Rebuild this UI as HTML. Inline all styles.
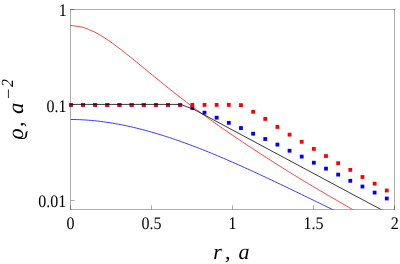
<!DOCTYPE html>
<html><head><meta charset="utf-8"><style>
html,body{margin:0;padding:0;background:#fff;}
svg{display:block;will-change:transform;}
text{font-family:"Liberation Serif",serif;fill:#000;text-rendering:geometricPrecision;}
.t{font-size:17.7px;}
.l{font-size:22px;font-style:italic;}
.s{font-size:17px;font-style:italic;}
</style></head><body>
<svg width="400" height="264" viewBox="0 0 400 264">
<rect width="400" height="264" fill="#fff"/>
<defs><clipPath id="c"><rect x="70.5" y="9.5" width="324.0" height="200.0"/></clipPath></defs>
<rect x="68.95" y="103.00" width="3.8" height="3.8" fill="#0000ff"/>
<rect x="81.10" y="103.00" width="3.8" height="3.8" fill="#0000ff"/>
<rect x="93.25" y="103.00" width="3.8" height="3.8" fill="#0000ff"/>
<rect x="105.40" y="103.00" width="3.8" height="3.8" fill="#0000ff"/>
<rect x="117.55" y="103.00" width="3.8" height="3.8" fill="#0000ff"/>
<rect x="129.70" y="103.00" width="3.8" height="3.8" fill="#0000ff"/>
<rect x="141.85" y="103.00" width="3.8" height="3.8" fill="#0000ff"/>
<rect x="154.00" y="103.00" width="3.8" height="3.8" fill="#0000ff"/>
<rect x="166.15" y="103.00" width="3.8" height="3.8" fill="#0000ff"/>
<rect x="178.30" y="103.00" width="3.8" height="3.8" fill="#0000ff"/>
<rect x="190.45" y="106.05" width="3.8" height="3.8" fill="#0000ff"/>
<rect x="202.60" y="110.75" width="3.8" height="3.8" fill="#0000ff"/>
<rect x="214.75" y="115.80" width="3.8" height="3.8" fill="#0000ff"/>
<rect x="226.90" y="120.95" width="3.8" height="3.8" fill="#0000ff"/>
<rect x="239.05" y="126.15" width="3.8" height="3.8" fill="#0000ff"/>
<rect x="251.20" y="131.80" width="3.8" height="3.8" fill="#0000ff"/>
<rect x="263.35" y="137.10" width="3.8" height="3.8" fill="#0000ff"/>
<rect x="275.50" y="142.70" width="3.8" height="3.8" fill="#0000ff"/>
<rect x="287.65" y="148.85" width="3.8" height="3.8" fill="#0000ff"/>
<rect x="299.80" y="154.70" width="3.8" height="3.8" fill="#0000ff"/>
<rect x="311.95" y="160.80" width="3.8" height="3.8" fill="#0000ff"/>
<rect x="324.10" y="166.75" width="3.8" height="3.8" fill="#0000ff"/>
<rect x="336.25" y="172.70" width="3.8" height="3.8" fill="#0000ff"/>
<rect x="348.40" y="178.90" width="3.8" height="3.8" fill="#0000ff"/>
<rect x="360.55" y="184.65" width="3.8" height="3.8" fill="#0000ff"/>
<rect x="372.70" y="190.70" width="3.8" height="3.8" fill="#0000ff"/>
<rect x="384.85" y="196.60" width="3.8" height="3.8" fill="#0000ff"/>
<rect x="68.95" y="103.00" width="3.8" height="3.8" fill="#ff0000"/>
<rect x="81.10" y="103.00" width="3.8" height="3.8" fill="#ff0000"/>
<rect x="93.25" y="103.00" width="3.8" height="3.8" fill="#ff0000"/>
<rect x="105.40" y="103.00" width="3.8" height="3.8" fill="#ff0000"/>
<rect x="117.55" y="103.00" width="3.8" height="3.8" fill="#ff0000"/>
<rect x="129.70" y="103.00" width="3.8" height="3.8" fill="#ff0000"/>
<rect x="141.85" y="103.00" width="3.8" height="3.8" fill="#ff0000"/>
<rect x="154.00" y="103.00" width="3.8" height="3.8" fill="#ff0000"/>
<rect x="166.15" y="103.00" width="3.8" height="3.8" fill="#ff0000"/>
<rect x="178.30" y="103.00" width="3.8" height="3.8" fill="#ff0000"/>
<rect x="190.45" y="103.00" width="3.8" height="3.8" fill="#ff0000"/>
<rect x="202.60" y="103.00" width="3.8" height="3.8" fill="#ff0000"/>
<rect x="214.75" y="103.00" width="3.8" height="3.8" fill="#ff0000"/>
<rect x="226.90" y="103.00" width="3.8" height="3.8" fill="#ff0000"/>
<rect x="239.05" y="103.20" width="3.8" height="3.8" fill="#ff0000"/>
<rect x="251.20" y="109.90" width="3.8" height="3.8" fill="#ff0000"/>
<rect x="263.35" y="117.00" width="3.8" height="3.8" fill="#ff0000"/>
<rect x="275.50" y="125.05" width="3.8" height="3.8" fill="#ff0000"/>
<rect x="287.65" y="132.75" width="3.8" height="3.8" fill="#ff0000"/>
<rect x="299.80" y="139.90" width="3.8" height="3.8" fill="#ff0000"/>
<rect x="311.95" y="147.00" width="3.8" height="3.8" fill="#ff0000"/>
<rect x="324.10" y="154.15" width="3.8" height="3.8" fill="#ff0000"/>
<rect x="336.25" y="161.30" width="3.8" height="3.8" fill="#ff0000"/>
<rect x="348.40" y="168.00" width="3.8" height="3.8" fill="#ff0000"/>
<rect x="360.55" y="175.10" width="3.8" height="3.8" fill="#ff0000"/>
<rect x="372.70" y="181.75" width="3.8" height="3.8" fill="#ff0000"/>
<rect x="384.85" y="188.60" width="3.8" height="3.8" fill="#ff0000"/>
<g clip-path="url(#c)" fill="none" stroke-width="0.78" stroke-linejoin="round">
<path d="M70.50,119.49 L73.50,119.51 L76.50,119.58 L79.50,119.68 L82.50,119.82 L85.50,119.99 L88.50,120.21 L91.50,120.46 L94.50,120.74 L97.50,121.06 L100.50,121.41 L103.50,121.80 L106.50,122.22 L109.50,122.67 L112.50,123.16 L115.50,123.67 L118.50,124.22 L121.50,124.79 L124.50,125.40 L127.50,126.03 L130.50,126.69 L133.50,127.38 L136.50,128.10 L139.50,128.84 L142.50,129.61 L145.50,130.41 L148.50,131.23 L151.50,132.07 L154.50,132.94 L157.50,133.83 L160.50,134.74 L163.50,135.68 L166.50,136.64 L169.50,137.62 L172.50,138.61 L175.50,139.63 L178.50,140.67 L181.50,141.73 L184.50,142.81 L187.50,143.91 L190.50,145.02 L193.50,146.15 L196.50,147.30 L199.50,148.46 L202.50,149.64 L205.50,150.83 L208.50,152.04 L211.50,153.27 L214.50,154.50 L217.50,155.75 L220.50,157.02 L223.50,158.29 L226.50,159.58 L229.50,160.88 L232.50,162.19 L235.50,163.51 L238.50,164.85 L241.50,166.19 L244.50,167.54 L247.50,168.90 L250.50,170.27 L253.50,171.64 L256.50,173.03 L259.50,174.42 L262.50,175.82 L265.50,177.22 L268.50,178.64 L271.50,180.05 L274.50,181.47 L277.50,182.90 L280.50,184.33 L283.50,185.77 L286.50,187.21 L289.50,188.65 L292.50,190.10 L295.50,191.55 L298.50,193.00 L301.50,194.45 L304.50,195.91 L307.50,197.37 L310.50,198.82 L313.50,200.28 L316.50,201.74 L319.50,203.20 L322.50,204.65 L325.50,206.11 L328.50,207.57 L331.50,209.02 L334.50,210.47 L336.00,211.20" stroke="#0000ff"/>
<path d="M70.50,25.35 L72.50,25.64 L74.50,25.94 L76.50,26.22 L78.50,26.48 L80.50,26.83 L82.50,27.26 L84.50,27.90 L86.50,28.63 L88.50,29.44 L90.50,30.25 L92.50,31.09 L94.50,32.00 L96.50,33.05 L98.50,34.16 L100.50,35.33 L102.50,36.55 L104.50,37.82 L106.50,39.13 L108.50,40.48 L110.50,41.87 L112.50,43.29 L114.50,44.74 L116.50,46.22 L118.50,47.72 L120.50,49.25 L122.50,50.80 L124.50,52.36 L126.50,53.95 L128.50,55.54 L130.50,57.15 L132.50,58.77 L134.50,60.39 L136.50,62.02 L138.50,63.66 L140.50,65.31 L142.50,66.95 L144.50,68.60 L146.50,70.24 L148.50,71.89 L150.50,73.54 L152.50,75.18 L154.50,76.82 L156.50,78.45 L158.50,80.08 L160.50,81.71 L162.50,83.33 L164.50,84.94 L166.50,86.55 L168.50,88.15 L170.50,89.74 L172.50,91.33 L174.50,92.91 L176.50,94.48 L178.50,96.04 L180.50,97.59 L182.50,99.14 L184.50,100.67 L186.50,102.20 L188.50,103.72 L190.50,105.23 L192.50,106.73 L194.50,108.23 L196.50,109.71 L198.50,111.19 L200.50,112.66 L202.50,114.12 L204.50,115.58 L206.50,117.02 L208.50,118.46 L210.50,119.89 L212.50,121.32 L214.50,122.74 L216.50,124.15 L218.50,125.55 L220.50,126.95 L222.50,128.34 L224.50,129.73 L226.50,131.11 L228.50,132.48 L230.50,133.85 L232.50,135.22 L234.50,136.57 L236.50,137.93 L238.50,139.27 L240.50,140.62 L242.50,141.96 L244.50,143.29 L246.50,144.62 L248.50,145.94 L250.50,147.26 L252.50,148.58 L254.50,149.89 L256.50,151.20 L258.50,152.50 L260.50,153.80 L262.50,155.10 L264.50,156.39 L266.50,157.68 L268.50,158.96 L270.50,160.24 L272.50,161.52 L274.50,162.79 L276.50,164.06 L278.50,165.32 L280.50,166.58 L282.50,167.84 L284.50,169.09 L286.50,170.33 L288.50,171.58 L290.50,172.81 L292.50,174.05 L294.50,175.28 L296.50,176.50 L298.50,177.73 L300.50,178.94 L302.50,180.16 L304.50,181.36 L306.50,182.57 L308.50,183.77 L310.50,184.96 L312.50,186.15 L314.50,187.34 L316.50,188.53 L318.50,189.71 L320.50,190.88 L322.50,192.06 L324.50,193.23 L326.50,194.39 L328.50,195.56 L330.50,196.72 L332.50,197.88 L334.50,199.04 L336.50,200.20 L338.50,201.36 L340.50,202.52 L342.50,203.68 L344.50,204.84 L346.50,206.00 L348.50,207.17 L350.50,208.34 L352.50,209.52 L354.50,210.70 L356.00,211.59" stroke="#ff0000"/>
<path d="M70.50,104.40 L180.50,104.40 L181.50,104.60 L182.80,105.20 L185.10,106.10 L187.40,107.00 L189.60,107.85 L192.00,108.70 L194.00,109.50 L196.70,110.90 L200.00,112.60 L355.00,195.65 L385.00,211.64" stroke="#000"/>
</g>
<g stroke="#000" stroke-opacity="0.32" stroke-width="1" fill="none">
<line x1="70.0" y1="9.5" x2="395.0" y2="9.5"/>
<line x1="70.0" y1="209.5" x2="395.0" y2="209.5"/>
<line x1="70.5" y1="9.0" x2="70.5" y2="210.0"/>
<line x1="394.5" y1="9.0" x2="394.5" y2="210.0"/>
<line x1="70.5" y1="9.50" x2="74.7" y2="9.50"/>
<line x1="70.5" y1="104.50" x2="74.7" y2="104.50"/>
<line x1="70.5" y1="200.50" x2="74.7" y2="200.50"/>
<line x1="70.50" y1="209.5" x2="70.50" y2="205.3"/>
<line x1="151.50" y1="209.5" x2="151.50" y2="205.3"/>
<line x1="232.50" y1="209.5" x2="232.50" y2="205.3"/>
<line x1="313.50" y1="209.5" x2="313.50" y2="205.3"/>
<line x1="394.50" y1="209.5" x2="394.50" y2="205.3"/>
</g>
<text class="t" text-anchor="end" transform="translate(66.8,16) scale(0.905,1)">1</text>
<text class="t" text-anchor="end" transform="translate(66.6,111.7) scale(0.905,1)">0.1</text>
<text class="t" text-anchor="end" transform="translate(66.3,206.9) scale(0.905,1)">0.01</text>
<text class="t" text-anchor="middle" transform="translate(70.5,229) scale(0.905,1)">0</text>
<text class="t" text-anchor="middle" transform="translate(151.5,229) scale(0.905,1)">0.5</text>
<text class="t" text-anchor="middle" transform="translate(232.5,229) scale(0.905,1)">1</text>
<text class="t" text-anchor="middle" transform="translate(313.5,229) scale(0.905,1)">1.5</text>
<text class="t" text-anchor="middle" transform="translate(394.7,229) scale(0.905,1)">2</text>
<text class="l" text-anchor="start" transform="translate(213.2,259)">r</text>
<text class="l" text-anchor="start" transform="translate(225.1,259)">,</text>
<text class="l" text-anchor="start" transform="translate(238.6,259)">a</text>
<text class="l" text-anchor="start" transform="translate(23,139.5) rotate(-90)">ϱ</text>
<text class="l" text-anchor="start" transform="translate(23,127) rotate(-90)">,</text>
<text class="l" text-anchor="start" transform="translate(23,114.0) rotate(-90) scale(1.03,1)">a</text>
<text class="s" text-anchor="start" transform="translate(14.2,99.9) rotate(-90) scale(1.07,1)">−</text>
<text class="s" text-anchor="start" transform="translate(12.8,86.9) rotate(-90) scale(0.93,1)">2</text>
</svg>
</body></html>
